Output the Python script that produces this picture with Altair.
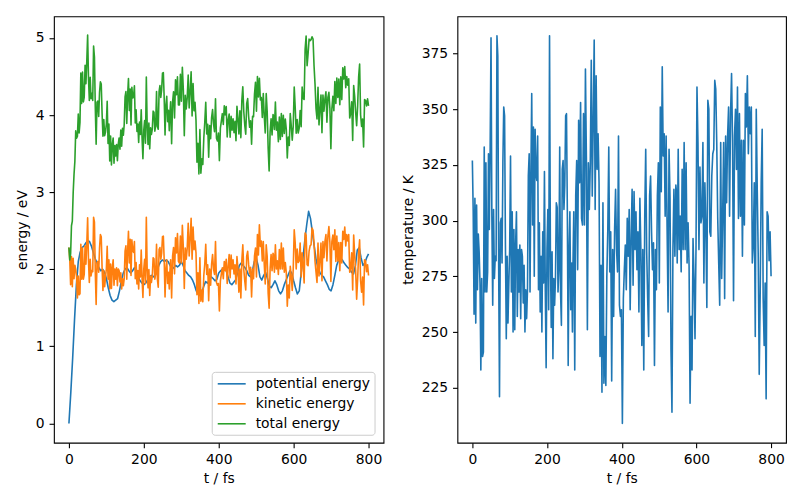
import numpy as np
import pandas as pd
import altair as alt

# ---------------- data ----------------
SERIES = ["potential energy", "kinetic energy", "total energy"]
COLORS = ["#1f77b4", "#ff7f0e", "#2ca02c"]
T_TICKS = [0, 200, 400, 600, 800]
E_TICKS = [0, 1, 2, 3, 4, 5]
K_TICKS = [225, 250, 275, 300, 325, 350, 375]

# potential energy (eV), one value every 5 fs from t = 0
POT_STEP_FS = 5
POTENTIAL = [
    0.00, 0.40, 0.85, 1.35, 1.80, 2.10, 2.22, 2.28, 2.30, 2.34,
    2.37, 2.36, 2.30, 2.22, 2.14, 2.08, 2.02, 1.98, 2.00, 1.96,
    1.88, 1.76, 1.66, 1.60, 1.58, 1.60, 1.62, 1.72, 1.85, 1.95,
    2.00, 2.02, 1.98, 1.95, 1.98, 2.02, 1.98, 1.90, 1.85, 1.82,
    1.80, 1.82, 1.86, 1.90, 1.92, 1.90, 1.92, 1.98, 2.05, 2.10,
    2.12, 2.10, 2.12, 2.10, 2.05, 2.00, 2.02, 2.05, 2.03, 2.05,
    2.10, 2.05, 1.98, 1.95, 1.92, 1.90, 1.86, 1.80, 1.72, 1.68,
    1.66, 1.70, 1.78, 1.84, 1.82, 1.86, 1.90, 1.88, 1.85, 1.87,
    1.95, 1.98, 2.00, 2.02, 1.98, 1.90, 1.82, 1.80, 1.83, 1.86,
    1.95, 2.05, 2.08, 2.05, 2.02, 1.98, 1.92, 1.90, 1.98, 2.10,
    2.15, 2.05, 1.90, 1.86, 1.92, 1.96, 1.88, 1.78, 1.76, 1.80,
    1.85, 1.80, 1.72, 1.68, 1.72, 1.80, 1.86, 1.92, 1.98, 1.95,
    1.85, 1.76, 1.68, 1.72, 1.95, 2.15, 2.38, 2.58, 2.75, 2.66,
    2.48, 2.30, 2.12, 2.02, 1.96, 1.92, 1.90, 1.85, 1.80, 1.74,
    1.72, 1.80, 1.92, 2.05, 2.12, 2.15, 2.12, 2.08, 2.05, 2.02,
    2.00, 1.96, 1.94, 2.05, 2.25, 2.28, 2.15, 2.05, 2.08, 2.15,
    2.20,
]

# temperature (K), read in three stretches of time (fs)
TEMP_SPANS = [(0, 268), (269, 545), (546, 800)]
TEMP_A = [
    327, 304, 258, 310, 254, 307, 269, 294, 286, 272, 233, 274, 239, 241, 333, 268,
    326, 268, 277, 330, 296, 333, 382, 302, 262, 305, 274, 284, 282, 383, 374, 281,
    221, 299, 301, 281, 326, 351, 347, 289, 247, 284, 254, 272, 287, 329, 268, 304,
    250, 296, 251, 289, 304, 257, 287, 268, 289, 256, 287, 284, 263, 280, 250, 269,
    256, 269, 320, 330, 268, 320, 357, 298, 342, 275, 341, 321, 318, 338, 269, 299,
    259, 284, 250, 295, 272, 322, 269, 234, 287, 305, 260, 383, 287, 252, 286, 238,
    274, 262, 274, 308, 306, 268, 278, 333, 268, 253, 323, 327, 305, 316, 347, 348,
    304, 235, 287, 304, 260, 281, 250,
]
TEMP_B = [
    275, 304, 233, 311, 327, 278, 345, 317, 353, 301, 298, 348, 298, 368, 327, 251,
    326, 305, 326, 372, 311, 344, 381, 305, 365, 323, 339, 317, 239, 280, 223, 308,
    227, 248, 226, 275, 296, 333, 277, 295, 228, 287, 257, 296, 314, 287, 277, 338,
    262, 257, 260, 209, 265, 278, 289, 269, 301, 284, 305, 260, 292, 314, 271, 313,
    287, 304, 278, 295, 259, 310, 287, 244, 287, 233, 302, 332, 286, 265, 248, 311,
    320, 295, 278, 290, 235, 287, 269, 311, 326, 272, 351, 313, 369, 329, 339, 302,
    338, 296, 259, 332, 310, 242, 214, 287, 314, 284, 316,
]
TEMP_C = [
    314, 281, 332, 287, 302, 277, 323, 287, 335, 287, 326, 281, 299, 280, 218, 257,
    233, 292, 274, 247, 287, 360, 335, 287, 324, 299, 302, 335, 272, 317, 296, 261,
    354, 350, 295, 293, 320, 330, 332, 363, 359, 335, 301, 281, 262, 335, 274, 302,
    335, 265, 338, 308, 338, 351, 302, 348, 366, 336, 264, 338, 350, 323, 360, 301,
    348, 302, 336, 284, 336, 298, 357, 342, 365, 330, 351, 339, 351, 281, 289, 317,
    248, 350, 314, 284, 231, 268, 317, 341, 265, 244, 272, 220, 304, 302, 282, 295,
    275,
]
# ratio kinetic energy / temperature (eV per K)
EV_PER_K = 0.00698

# ---------------- derived tables ----------------
temp_parts = [TEMP_A, TEMP_B, TEMP_C]
t_temp = np.concatenate([np.linspace(a, b, len(v)) for (a, b), v in zip(TEMP_SPANS, temp_parts)])
temp = np.concatenate([np.asarray(v, dtype=float) for v in temp_parts])
kin = temp * EV_PER_K
pot = np.asarray(POTENTIAL, dtype=float)
t_pot = np.arange(len(pot)) * POT_STEP_FS
nearest = np.clip(np.rint(t_temp / POT_STEP_FS).astype(int), 0, len(pot) - 1)
total = pot[nearest] + kin

pot_df = pd.DataFrame({"t": t_pot, "value": pot, "series": SERIES[0]})
kin_df = pd.DataFrame({"t": t_temp, "value": kin, "series": SERIES[1]})
tot_df = pd.DataFrame({"t": t_temp, "value": total, "series": SERIES[2]})
temp_df = pd.DataFrame({"t": t_temp, "T": temp})

FONT = "DejaVu Sans"
FS = 13.89

x_scale = alt.Scale(domain=[-40, 840], nice=False, zero=False)
x_axis = alt.Axis(values=T_TICKS, title="t / fs", format="d")
color_scale = alt.Scale(domain=SERIES, range=COLORS)

legend = alt.Legend(
    title=None, orient="none", legendX=158, legendY=356,
    symbolType="M-2,0L2,0", symbolSize=196, symbolStrokeWidth=1.6,
    symbolOffset=8, labelOffset=16,
    labelFont=FONT, labelFontSize=FS, labelColor="black",
    padding=4, rowPadding=5, strokeColor="#cccccc", fillColor="white",
    cornerRadius=3,
)


def energy_line(df):
    return alt.Chart(df).mark_line(strokeWidth=1.6, strokeJoin="round").encode(
        x=alt.X("t:Q", scale=x_scale, axis=x_axis),
        y=alt.Y("value:Q",
                scale=alt.Scale(domain=[-0.25, 5.28], nice=False, zero=False),
                axis=alt.Axis(values=E_TICKS, title="energy / eV", format="d")),
        color=alt.Color("series:N", scale=color_scale, legend=legend),
    )


left = alt.layer(energy_line(pot_df), energy_line(kin_df), energy_line(tot_df)).properties(
    width=330, height=427)

right = alt.Chart(temp_df).mark_line(color="#1f77b4", strokeWidth=1.6, strokeJoin="round").encode(
    x=alt.X("t:Q", scale=x_scale, axis=x_axis),
    y=alt.Y("T:Q", scale=alt.Scale(domain=[200.3, 391.7], nice=False, zero=False),
            axis=alt.Axis(values=K_TICKS, title="temperature / K", format="d")),
).properties(width=329, height=427)

chart = alt.hconcat(left, right, spacing=16).properties(
    padding={"left": 7, "top": 7, "right": 5, "bottom": 3},
    background="white",
).configure_view(
    stroke="black", strokeWidth=1.1,
).configure_axis(
    domain=False, grid=False,
    ticks=True, tickColor="black", tickSize=4.9, tickWidth=1.1,
    labelFont=FONT, labelFontSize=FS, labelColor="black", labelPadding=4.9,
    titleFont=FONT, titleFontSize=FS, titleColor="black", titleFontWeight="normal",
    titlePadding=5.6,
)

chart.save("out.html", embed_options={"renderer": "svg", "actions": False})
